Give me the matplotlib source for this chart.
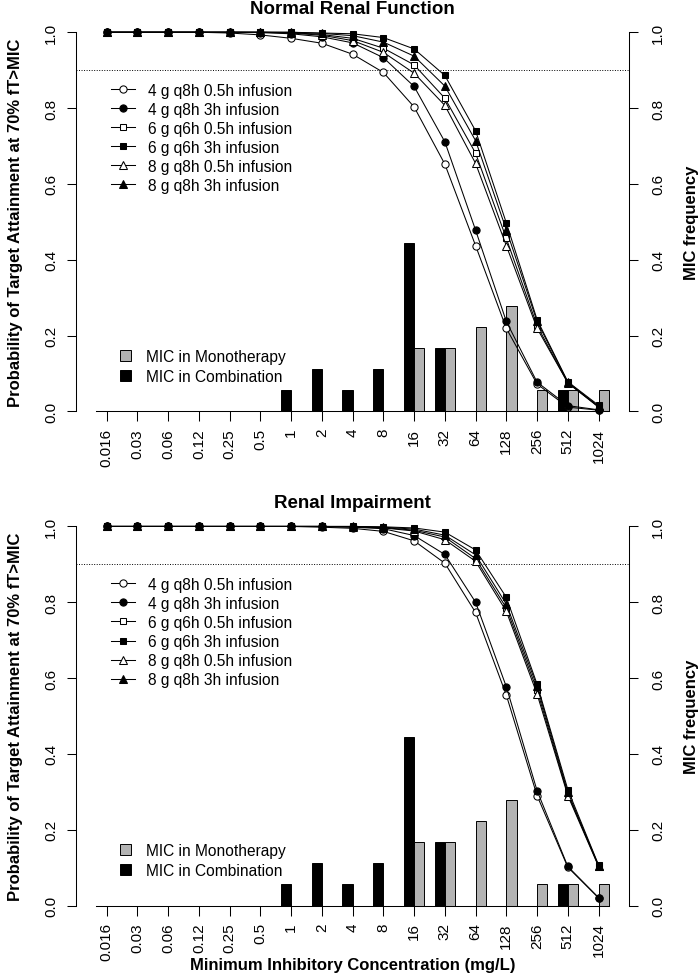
import numpy as np
import matplotlib
matplotlib.use('Agg')
import matplotlib.pyplot as plt
from matplotlib.patches import Patch

plt.rcParams['font.family'] = ['Liberation Sans', 'DejaVu Sans']

##################### DATA ##################################
mic_labels = ['0.016', '0.03', '0.06', '0.12', '0.25', '0.5', '1', '2', '4', '8',
              '16', '32', '64', '128', '256', '512', '1024']

regimens = ['4 g q8h 0.5h infusion', '4 g q8h 3h infusion',
            '6 g q6h 0.5h infusion', '6 g q6h 3h infusion',
            '8 g q8h 0.5h infusion', '8 g q8h 3h infusion']

# probability of target attainment - normal renal function
normal_4g_05h = [1, 1, 1, 1, 0.998, 0.993, 0.984, 0.971, 0.942, 0.894, 0.803, 0.652, 0.437, 0.219, 0.072, 0.011, 0.003]
normal_4g_3h = [1, 1, 1, 1, 1, 0.999, 0.996, 0.988, 0.972, 0.933, 0.857, 0.711, 0.478, 0.237, 0.077, 0.015, 0.004]
normal_6g_05h = [1, 1, 1, 1, 1, 1, 0.999, 0.994, 0.984, 0.958, 0.914, 0.826, 0.681, 0.456, 0.226, 0.075, 0.012]
normal_6g_3h = [1, 1, 1, 1, 1, 1, 1, 0.998, 0.996, 0.986, 0.956, 0.886, 0.740, 0.497, 0.242, 0.078, 0.016]
normal_8g_05h = [1, 1, 1, 1, 1, 1, 0.998, 0.992, 0.978, 0.947, 0.892, 0.807, 0.654, 0.437, 0.219, 0.075, 0.011]
normal_8g_3h = [1, 1, 1, 1, 1, 1, 1, 0.997, 0.991, 0.974, 0.937, 0.858, 0.714, 0.479, 0.237, 0.077, 0.013]

# probability of target attainment - renal impairment
impair_4g_05h = [1, 1, 1, 1, 1, 1, 1, 0.998, 0.995, 0.987, 0.962, 0.903, 0.773, 0.555, 0.290, 0.101, 0.020]
impair_4g_3h = [1, 1, 1, 1, 1, 1, 1, 1, 0.998, 0.994, 0.976, 0.926, 0.800, 0.577, 0.303, 0.103, 0.021]
impair_6g_05h = [1, 1, 1, 1, 1, 1, 1, 1, 0.999, 0.997, 0.990, 0.972, 0.915, 0.785, 0.568, 0.294, 0.105]
impair_6g_3h = [1, 1, 1, 1, 1, 1, 1, 1, 1, 0.999, 0.996, 0.985, 0.938, 0.813, 0.584, 0.306, 0.107]
impair_8g_05h = [1, 1, 1, 1, 1, 1, 1, 1, 0.999, 0.996, 0.988, 0.965, 0.908, 0.776, 0.558, 0.290, 0.103]
impair_8g_3h = [1, 1, 1, 1, 1, 1, 1, 1, 1, 0.998, 0.993, 0.977, 0.925, 0.795, 0.578, 0.299, 0.105]

# MIC distributions (frequency)
mic_mono = [0, 0, 0, 0, 0, 0, 0, 0, 0, 0, 0.167, 0.167, 0.222, 0.278, 0.056, 0.056, 0.056]
mic_combo = [0, 0, 0, 0, 0, 0, 0.056, 0.111, 0.056, 0.111, 0.444, 0.167, 0, 0, 0, 0.056, 0]

target = 0.9

markers = [('o', 'white', 5.2), ('o', 'black', 5.2), ('s', 'white', 5),
           ('s', 'black', 5), ('^', 'white', 5.8), ('^', 'black', 5.8)]
grey = '#B3B3B3'


def draw_panel(ax, curves, title):
    x = np.arange(len(mic_labels))
    w = 1 / 3
    ax.bar(x - w, mic_combo, width=w, align='edge', color='black',
           edgecolor='black', linewidth=0.7, zorder=1)
    ax.bar(x, mic_mono, width=w, align='edge', color=grey,
           edgecolor='black', linewidth=0.7, zorder=1)
    ax.axhline(target, color='black', linestyle=(0, (1, 1.6)), linewidth=0.7, zorder=2)

    handles = []
    for y, (m, fc, ms), lab in zip(curves, markers, regimens):
        h, = ax.plot(x, y, color='black', linewidth=0.75, marker=m, markersize=ms,
                     markerfacecolor=fc, markeredgecolor='black', markeredgewidth=0.75,
                     zorder=3, label=lab)
        handles.append(h)

    ax.set_xlim(-1, 17)
    ax.set_ylim(-0.04, 1.04)

    for s in ['top', 'right']:
        ax.spines[s].set_visible(False)
    ax.spines['left'].set_bounds(0, 1)
    ax.spines['bottom'].set_position(('data', 0))
    ax.spines['bottom'].set_bounds(-w, 16 + w)
    for s in ['left', 'bottom']:
        ax.spines[s].set_linewidth(0.75)

    ax.set_xticks(x)
    ax.set_xticklabels(mic_labels, rotation=90)
    ax.set_yticks(np.arange(0, 1.01, 0.2))
    ax.set_yticklabels(['%.1f' % v for v in np.arange(0, 1.01, 0.2)])
    ax.tick_params(axis='x', length=7, width=0.75, pad=5, labelsize=11)
    ax.tick_params(axis='y', length=6.7, width=0.75, pad=6, labelsize=11, labelrotation=90)
    for t in ax.get_yticklabels():
        t.set_va('center')

    ax.set_ylabel('Probability of Target Attainment at 70% fT>MIC',
                  fontweight='bold', fontsize=12)
    ax.yaxis.set_label_coords(-0.096, 0.5)
    ax.set_title(title, fontweight='bold', fontsize=13.5, pad=3)

    leg1 = ax.legend(handles=handles, loc='upper left', bbox_to_anchor=(0.14, 0.867),
                     bbox_transform=ax.transData, frameon=False, fontsize=11.2,
                     handlelength=1.55, handletextpad=0.8, labelspacing=0.26,
                     borderpad=0, borderaxespad=0)
    ax.add_artist(leg1)
    bar_handles = [Patch(facecolor=grey, edgecolor='black', linewidth=0.7),
                   Patch(facecolor='black', edgecolor='black', linewidth=0.7)]
    ax.legend(bar_handles, ['MIC in Monotherapy', 'MIC in Combination'],
              loc='upper left', bbox_to_anchor=(0.42, 0.164),
              bbox_transform=ax.transData, frameon=False, fontsize=11.2,
              handlelength=0.72, handleheight=0.72, handletextpad=0.95,
              labelspacing=0.3, borderpad=0, borderaxespad=0)

    # right axis for MIC frequency
    ax2 = ax.twinx()
    ax2.set_ylim(-0.04, 1.04)
    for s in ['top', 'left', 'bottom']:
        ax2.spines[s].set_visible(False)
    ax2.spines['right'].set_bounds(0, 1)
    ax2.spines['right'].set_linewidth(0.75)
    ax2.set_yticks(np.arange(0, 1.01, 0.2))
    ax2.set_yticklabels(['%.1f' % v for v in np.arange(0, 1.01, 0.2)])
    ax2.tick_params(axis='y', length=6.7, width=0.75, pad=9, labelsize=11, labelrotation=90)
    for t in ax2.get_yticklabels():
        t.set_va('center')
    ax2.set_ylabel('MIC frequency', fontweight='bold', fontsize=12)
    ax2.yaxis.set_label_coords(1.099, 0.5)
    return ax


fig = plt.figure(figsize=(7, 9.78), dpi=100)

ax_top = fig.add_axes([0.10857, 0.5629, 0.7904, 0.4186])
draw_panel(ax_top, [normal_4g_05h, normal_4g_3h, normal_6g_05h,
                    normal_6g_3h, normal_8g_05h, normal_8g_3h],
           'Normal Renal Function')

ax_bot = fig.add_axes([0.10857, 0.0576, 0.7904, 0.4186])
draw_panel(ax_bot, [impair_4g_05h, impair_4g_3h, impair_6g_05h,
                    impair_6g_3h, impair_8g_05h, impair_8g_3h],
           'Renal Impairment')

fig.text(352.6 / 700, 1 - 966 / 978, 'Minimum Inhibitory Concentration (mg/L)',
         ha='center', va='center', fontweight='bold', fontsize=12)

fig.savefig('out.png', dpi=100)
